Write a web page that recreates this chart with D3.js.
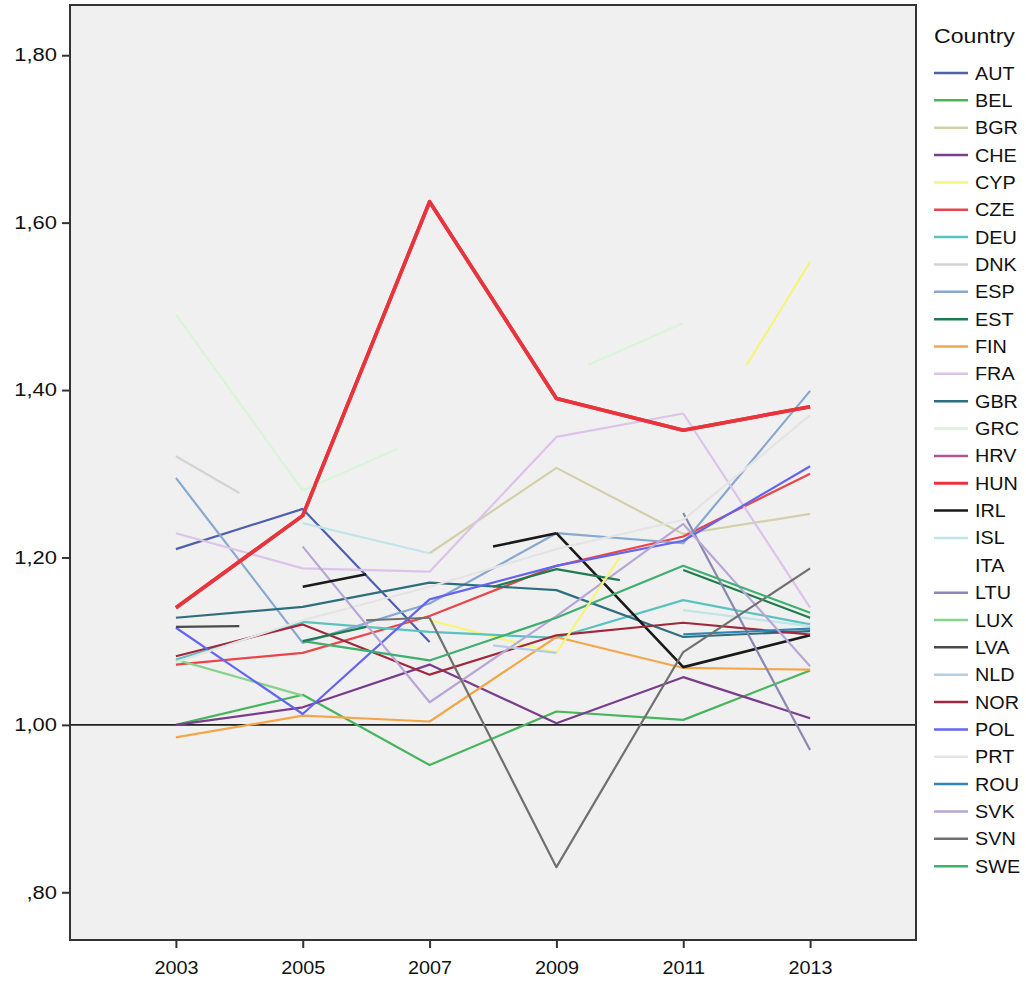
<!DOCTYPE html>
<html><head><meta charset="utf-8">
<script src="https://cdn.jsdelivr.net/npm/d3@7"></script>
<style>body{margin:0;background:#fff;}svg{display:block;font-family:"Liberation Sans",Arial,sans-serif;}</style>
</head><body><svg id="c" width="1026" height="981"></svg>
<script>
const years = [2003, 2005, 2007, 2009, 2011, 2013];
const yTicks = [0.8, 1.0, 1.2, 1.4, 1.6, 1.8];
const countries = ["AUT","BEL","BGR","CHE","CYP","CZE","DEU","DNK","ESP","EST","FIN","FRA","GBR","GRC","HRV","HUN","IRL","ISL","ITA","LTU","LUX","LVA","NLD","NOR","POL","PRT","ROU","SVK","SVN","SWE"];
const colors = ["#4f5fae","#47b55c","#d2d0a8","#7a3d8c","#f5f57a","#e8474a","#5ac3c0","#d3d3d3","#87a8d0","#1f7a4d","#f5a54a","#dcc3ea","#2e6e7e","#d8f5d8","#b0559a","#e8343c","#1a1a1a","#c0e4e8","#ffffff","#8a88b0","#86d48a","#4a4a4a","#b4cce6","#a0283c","#6464f0","#e4e4e4","#2f86b4","#b8a6d6","#707070","#3fae6e"];

// values at the odd years (null = missing)
const AUT = [1.21, 1.258, 1.099, null, null, null];
const BEL = [1.0, 1.036, 0.952, 1.016, 1.006, 1.065];
const BGR = [null, null, 1.205, 1.307, 1.228, 1.252];
const CHE = [1.0, 1.021, 1.072, 1.002, 1.057, 1.008];
const CYP = [null, null, 1.125, 1.086, null, null];
const CZE = [1.072, 1.086, 1.13, 1.19, 1.225, 1.30];
const DEU = [1.078, 1.123, 1.111, 1.104, 1.149, 1.12];
const DNK = [null, null, null, null, null, null];
const ESP = [1.295, 1.098, 1.145, 1.229, 1.217, 1.399];
const EST = [null, null, null, null, 1.185, 1.128];
const FIN = [0.985, 1.011, 1.004, 1.105, 1.068, 1.066];
const FRA = [1.229, 1.187, 1.183, 1.344, 1.372, 1.14];
const GBR = [1.128, 1.141, 1.17, 1.161, 1.105, 1.112];
const GRC = [1.49, 1.28, null, null, null, null];
const HRV = [null, null, null, null, null, null];
const HUN = [1.14, 1.25, 1.625, 1.39, 1.352, 1.38];
const IRL = [null, null, null, 1.229, 1.069, 1.107];
const ISL = [null, 1.241, 1.205, null, 1.137, 1.118];
const ITA = [null, null, null, null, null, null];
const LTU = [null, null, null, null, 1.253, 0.97];
const LUX = [1.078, 1.035, null, null, null, null];
const LVA = [null, null, null, null, null, null];
const NLD = [null, null, null, null, null, null];
const NOR = [1.082, 1.12, 1.06, 1.107, 1.122, 1.108];
const POL = [1.116, 1.013, 1.15, 1.19, 1.22, 1.309];
const PRT = [1.075, 1.125, 1.165, 1.21, 1.245, 1.37];
const ROU = [null, null, null, null, 1.108, 1.115];
const SVK = [null, 1.213, 1.027, 1.13, 1.24, 1.07];
const SVN = [null, null, 1.128, 0.83, 1.087, 1.187];
const SWE = [null, 1.10, 1.077, 1.128, 1.19, 1.134];
const seriesValues = [AUT,BEL,BGR,CHE,CYP,CZE,DEU,DNK,ESP,EST,FIN,FRA,GBR,GRC,HRV,HUN,IRL,ISL,ITA,LTU,LUX,LVA,NLD,NOR,POL,PRT,ROU,SVK,SVN,SWE];

// short partial segments (country, years, values)
const stubCountry = ["DNK","LVA","GRC","GRC","IRL","IRL","EST","EST","SVN","CYP","CYP","NLD"];
const stubYears = [[2003,2004],[2003,2004],[2005,2006.5],[2009.5,2011],[2005,2006],[2008,2009],[2005,2006],[2008,2009,2010],[2006,2007],[2009,2010],[2012,2013],[2008,2009]];
const stubValues = [[1.321,1.277],[1.117,1.118],[1.28,1.33],[1.43,1.48],[1.165,1.18],[1.213,1.229],[1.10,1.117],[1.165,1.186,1.173],[1.125,1.128],[1.086,1.20],[1.43,1.553],[1.095,1.086]];

const svg = d3.select("#c");
const L = 70, R = 916, T = 5, B = 940;
const x = d3.scaleLinear().domain([2001.33, 2014.67]).range([L, R]);
const y = d3.scaleLinear().domain([0.743, 1.86]).range([B, T]);
const color = d3.scaleOrdinal().domain(countries).range(colors);
const width = c => c === "HUN" ? 3.6 : (c === "IRL" ? 2.6 : 2.2);

svg.append("rect").attr("x", L).attr("y", T).attr("width", R - L).attr("height", B - T).attr("fill", "#f0f0f0");

svg.append("clipPath").attr("id", "clip").append("rect").attr("x", L).attr("y", T).attr("width", R - L).attr("height", B - T);
const g = svg.append("g").attr("clip-path", "url(#clip)");

const line = d3.line().defined(d => d[1] != null).x(d => x(d[0])).y(d => y(d[1]));

// reference line at 1
g.append("line").attr("x1", L).attr("x2", R).attr("y1", y(1)).attr("y2", y(1)).attr("stroke", "#222").attr("stroke-width", 1.6);

countries.forEach((c, i) => {
  const pts = years.map((yr, j) => [yr, seriesValues[i][j]]);
  g.append("path").datum(pts).attr("d", line).attr("fill", "none")
    .attr("stroke", color(c)).attr("stroke-width", width(c)).attr("stroke-linejoin", "round");
});
stubCountry.forEach((c, i) => {
  const pts = stubYears[i].map((yr, j) => [yr, stubValues[i][j]]);
  g.append("path").datum(pts).attr("d", line).attr("fill", "none")
    .attr("stroke", color(c)).attr("stroke-width", width(c)).attr("stroke-linejoin", "round");
});
// redraw HUN on top
g.append("path").datum(years.map((yr, j) => [yr, HUN[j]])).attr("d", line).attr("fill", "none")
  .attr("stroke", color("HUN")).attr("stroke-width", 3.6).attr("stroke-linejoin", "round");

// axes
const fmt = v => { const s = v.toFixed(2).replace(".", ","); return s.startsWith("0") ? s.slice(1) : s; };
const yAxis = svg.append("g").attr("transform", `translate(${L},0)`)
  .call(d3.axisLeft(y).tickValues(yTicks).tickFormat(fmt).tickSize(8).tickPadding(5));
const xAxis = svg.append("g").attr("transform", `translate(0,${B})`)
  .call(d3.axisBottom(x).tickValues(years).tickFormat(d3.format("d")).tickSize(8).tickPadding(13));
[yAxis, xAxis].forEach(a => {
  a.select(".domain").remove();
  a.selectAll(".tick line").attr("stroke", "#333").attr("stroke-width", 2);
  a.selectAll("text").attr("fill", "#111").attr("font-size", 18).attr("font-family", "Liberation Sans, Arial, sans-serif");
});

svg.append("rect").attr("x", L).attr("y", T).attr("width", R - L).attr("height", B - T)
  .attr("fill", "none").attr("stroke", "#333").attr("stroke-width", 2);

// legend
const lg = svg.append("g");
lg.append("text").attr("x", 934).attr("y", 43).text("Country").attr("font-size", 21).attr("fill", "#111");
countries.forEach((c, i) => {
  const yy = 73 + i * 27.35;
  lg.append("line").attr("x1", 934).attr("x2", 968).attr("y1", yy).attr("y2", yy)
    .attr("stroke", color(c)).attr("stroke-width", c === "HUN" ? 3 : 2.5);
  lg.append("text").attr("x", 975).attr("y", yy + 6.5).text(c).attr("font-size", 18).attr("fill", "#111");
});

// slight horizontal stretch of all text, as in the reference
svg.selectAll("text").each(function() {
  const len = this.getComputedTextLength();
  const k = this.closest("g") === yAxis.node() || d3.select(this.parentNode.parentNode).node() === yAxis.node() ? 1.22 : 1.1;
  d3.select(this).attr("textLength", len * k).attr("lengthAdjust", "spacingAndGlyphs");
});
</script></body></html>
